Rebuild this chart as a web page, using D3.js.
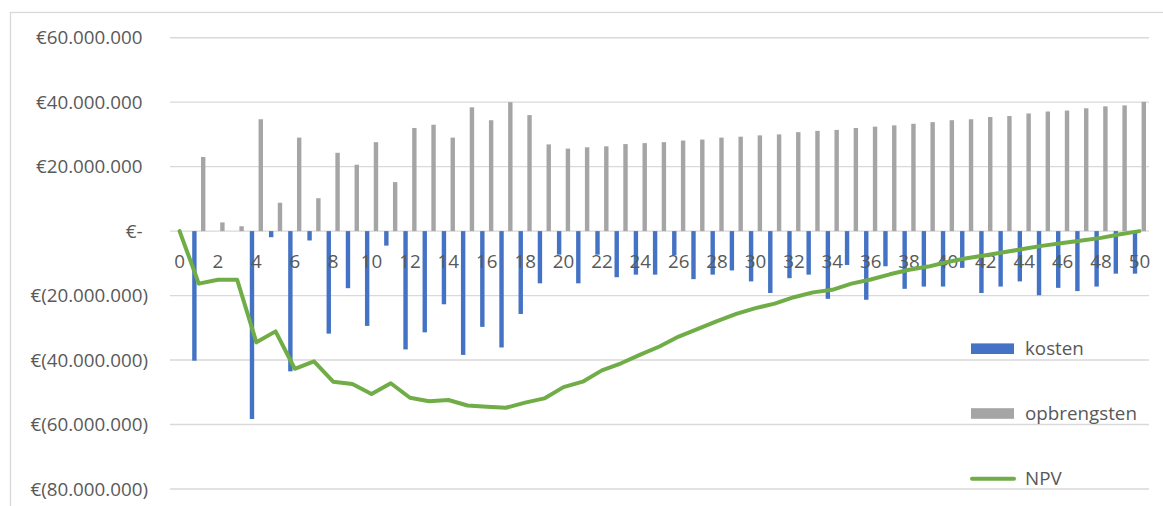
<!DOCTYPE html>
<html>
<head>
<meta charset="utf-8">
<script src="https://cdn.jsdelivr.net/npm/d3@7"></script>
<style>
  html, body { margin: 0; padding: 0; background: #ffffff; }
  svg { display: block; }
  text { font-family: "Open Sans", "Noto Sans", sans-serif; fill: #595959; }
</style>
</head>
<body>
<svg id="chart" width="1163" height="506"></svg>
<script>
// Years 0..50
const years = d3.range(0, 51);

// Costs per year (in millions of euros, shown below zero)
const kosten = [
  0, -40.2, 0, 0, -58.3, -1.9, -43.5, -2.9, -31.8, -17.7,
  -29.4, -4.5, -36.7, -31.4, -22.7, -38.4, -29.7, -36.1, -25.7, -16.2,
  -7.3, -16.2, -7.3, -14.3, -13.5, -13.5, -7.5, -14.9, -13.5, -12.2,
  -15.6, -19.2, -14.6, -13.5, -21.0, -10.5, -21.3, -10.9, -17.9, -17.2,
  -17.2, -11.4, -19.2, -17.2, -15.6, -19.9, -17.6, -18.6, -17.2, -13.2,
  -13.2
];

// Revenues per year (in millions of euros)
const opbrengsten = [
  0, 23.0, 2.7, 1.5, 34.7, 8.8, 29.0, 10.2, 24.3, 20.6,
  27.6, 15.2, 32.0, 33.0, 29.0, 38.4, 34.4, 40.0, 36.0, 26.9,
  25.6, 26.0, 26.3, 27.0, 27.3, 27.6, 28.1, 28.4, 29.0, 29.3,
  29.7, 30.0, 30.7, 31.1, 31.4, 32.0, 32.4, 32.8, 33.3, 33.8,
  34.4, 34.7, 35.4, 35.7, 36.5, 37.1, 37.4, 38.1, 38.7, 39.0,
  40.1
];

// Cumulative net present value (in millions of euros)
const npv = [
  0, -16.3, -15.1, -15.1, -34.5, -31.1, -42.7, -40.4, -46.7, -47.4,
  -50.5, -47.2, -51.7, -52.8, -52.4, -54.1, -54.5, -54.8, -53.2, -51.9,
  -48.4, -46.7, -43.2, -41.0, -38.3, -35.8, -32.7, -30.3, -27.9, -25.7,
  -23.9, -22.5, -20.5, -19.0, -18.2, -16.3, -15.0, -13.4, -12.0, -11.0,
  -9.6, -8.4, -7.5, -6.5, -5.5, -4.5, -3.7, -2.9, -2.1, -1.0,
  0.0
];

// Value axis ticks (euros)
const yTicks = [60e6, 40e6, 20e6, 0, -20e6, -40e6, -60e6, -80e6];

const seriesNames = ["kosten", "opbrengsten", "NPV"];
const colors = { kosten: "#4472C4", opbrengsten: "#A5A5A5", NPV: "#70AD47" };

const M = 1e6;
const svg = d3.select("#chart");
const W = 1163, H = 506;

// Outer chart frame
svg.append("rect")
  .attr("x", 10.5).attr("y", 12.5)
  .attr("width", W + 10).attr("height", H + 10)
  .attr("fill", "#fff").attr("stroke", "#d9d9d9").attr("stroke-width", 1.3);

const plot = { left: 170, right: 1149, top: 37.7, bottom: 489 };

const x = d3.scaleBand().domain(years).range([plot.left, plot.right]).padding(0);
const y = d3.scaleLinear().domain([-80e6, 60e6]).range([plot.bottom, plot.top]);

// Horizontal gridlines
svg.append("g").selectAll("line").data(yTicks).join("line")
  .attr("x1", plot.left).attr("x2", plot.right)
  .attr("y1", d => y(d)).attr("y2", d => y(d))
  .attr("stroke", "#d9d9d9").attr("stroke-width", 1.4);

// Euro formatting with dot thousands separator, negatives in parentheses
const nl = d3.formatLocale({ decimal: ",", thousands: ".", grouping: [3], currency: ["€", ""] });
const fmt = nl.format(",.0f");
const yFormat = v => v === 0 ? "€-" : v < 0 ? "€(" + fmt(-v) + ")" : "€" + fmt(v);

const fontSize = 18.8;
const yAxis = svg.append("g")
  .attr("transform", `translate(148,0)`)
  .call(d3.axisLeft(y).tickValues(yTicks).tickFormat(yFormat).tickSize(0).tickPadding(0));
yAxis.select(".domain").remove();
yAxis.selectAll("text")
  .attr("font-size", fontSize)
  .attr("font-family", null)
  .style("fill", "#595959");

// Positive values get a trailing space as wide as ")" so digits line up
const probe = svg.append("text").attr("font-size", fontSize).text(")");
const parenW = probe.node().getComputedTextLength();
probe.remove();
yAxis.selectAll(".tick").filter(d => d >= 0).select("text").attr("x", -parenW);

// Bars: clustered within each year
const inner = d3.scaleBand().domain(["kosten", "opbrengsten"]).range([-6.6, 6.6]).paddingInner(0.5);

const barData = [];
years.forEach((yr, i) => {
  barData.push({ yr, key: "kosten", v: kosten[i] * M });
  barData.push({ yr, key: "opbrengsten", v: opbrengsten[i] * M });
});

svg.append("g").selectAll("rect").data(barData.filter(d => d.v !== 0)).join("rect")
  .attr("x", d => x(d.yr) + x.bandwidth() / 2 + inner(d.key))
  .attr("width", inner.bandwidth())
  .attr("y", d => Math.min(y(d.v), y(0)))
  .attr("height", d => Math.abs(y(d.v) - y(0)))
  .attr("fill", d => colors[d.key]);

// Category axis labels (every other year) below the zero line
const xAxis = svg.append("g")
  .attr("transform", `translate(0,${y(0)})`)
  .call(d3.axisBottom(x).tickValues(years.filter(d => d % 2 === 0)).tickSize(0));
xAxis.select(".domain").remove();
xAxis.selectAll("text")
  .attr("font-size", fontSize)
  .attr("font-family", null)
  .attr("y", 30)
  .attr("dy", "0.35em")
  .style("fill", "#595959");

// NPV line
const line = d3.line()
  .x((d, i) => x(years[i]) + x.bandwidth() / 2)
  .y(d => y(d * M));
svg.append("path").datum(npv)
  .attr("d", line)
  .attr("fill", "none")
  .attr("stroke", colors.NPV)
  .attr("stroke-width", 4)
  .attr("stroke-linejoin", "round")
  .attr("stroke-linecap", "round");

// Legend
const legendY = [348.7, 413.5, 478.7];
const lg = svg.append("g");
seriesNames.forEach((name, i) => {
  const cy = legendY[i];
  if (name === "NPV") {
    lg.append("line")
      .attr("x1", 972).attr("x2", 1014).attr("y1", cy).attr("y2", cy)
      .attr("stroke", colors[name]).attr("stroke-width", 4).attr("stroke-linecap", "round");
  } else {
    lg.append("rect")
      .attr("x", 971).attr("y", cy - 5.3).attr("width", 43).attr("height", 10.6)
      .attr("fill", colors[name]);
  }
  lg.append("text")
    .attr("x", 1025).attr("y", cy).attr("dy", "0.35em")
    .attr("font-size", fontSize)
    .text(name);
});
</script>
</body>
</html>
